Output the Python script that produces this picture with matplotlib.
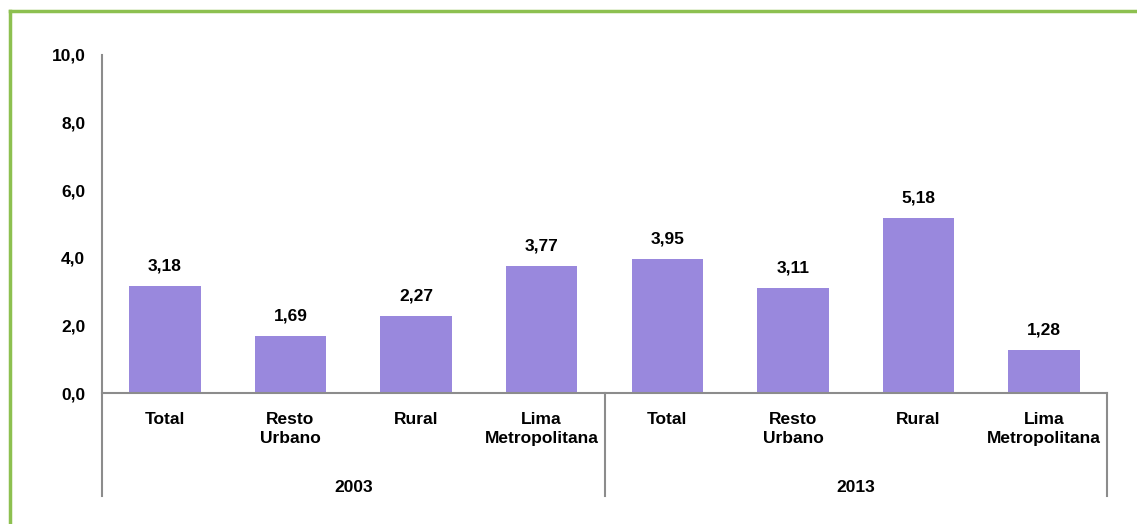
import matplotlib
matplotlib.use("Agg")
import matplotlib.pyplot as plt
from matplotlib import font_manager
from matplotlib.lines import Line2D

years = ["2003", "2013"]
areas = ["Total", "Resto\nUrbano", "Rural", "Lima\nMetropolitana"]
values_2003 = [3.18, 1.69, 2.27, 3.77]
values_2013 = [3.95, 3.11, 5.18, 1.28]
yticks = [0, 2, 4, 6, 8, 10]

names = {f.name for f in font_manager.fontManager.ttflist}
fam = "Liberation Sans Narrow" if "Liberation Sans Narrow" in names else "Liberation Sans"
fs = 14 if fam == "Liberation Sans Narrow" else 12.5
plt.rcParams["font.family"] = [fam, "DejaVu Sans"]
plt.rcParams["font.weight"] = "bold"

W, H = 1137, 524
fig = plt.figure(figsize=(W / 100, H / 100), dpi=100)
ax = fig.add_axes([102 / W, (H - 393) / H, (1107 - 102) / W, 338 / H])

values = values_2003 + values_2013
labels = areas + areas
xs = list(range(len(values)))
bar_color = "#9988DD"
ax.bar(xs, values, width=0.57, color=bar_color, zorder=2)

for x, v in zip(xs, values):
    ax.annotate(f"{v:.2f}".replace(".", ","), (x, v), xytext=(0, 9),
                textcoords="offset points", ha="center", va="bottom",
                fontsize=fs, fontweight="bold")

ax.set_xlim(-0.5, len(values) - 0.5)
ax.set_ylim(0, 10)
ax.set_yticks(yticks)
ax.set_yticklabels([f"{t:.1f}".replace(".", ",") for t in yticks], fontsize=fs, fontweight="bold")
ax.tick_params(axis="y", length=0, pad=12)
ax.set_xticks([])
for s in ["top", "right", "left"]:
    ax.spines[s].set_visible(False)
axis_color = "#8C8C8C"
ax.spines["bottom"].set_color(axis_color)
ax.spines["bottom"].set_linewidth(1.5)

tr = ax.get_xaxis_transform()
ybot = (393 - 496) / 338
# left axis line
ax.add_line(Line2D([-0.5, -0.5], [1, ybot], transform=tr, color=axis_color, lw=1.5, clip_on=False))
# group separators
for xsep in [3.5, 7.5]:
    ax.add_line(Line2D([xsep, xsep], [0, ybot], transform=tr, color=axis_color, lw=1.5, clip_on=False))

for x, lab in zip(xs, labels):
    ax.text(x, (393 - 412) / 338, lab, transform=tr, ha="center", va="top",
            fontsize=fs, fontweight="bold", linespacing=1.3)

for i, yr in enumerate(years):
    ax.text(1.5 + 4 * i, (393 - 487) / 338, yr, transform=tr, ha="center", va="center",
            fontsize=fs, fontweight="bold")

# green frame (top and left edges visible)
green = "#8DC050"
fig.add_artist(Line2D([9.5 / W, 1.0], [1 - 10.5 / H, 1 - 10.5 / H], transform=fig.transFigure,
                      color=green, lw=2.5))
fig.add_artist(Line2D([9.5 / W, 9.5 / W], [1 - 10.5 / H, 0], transform=fig.transFigure,
                      color=green, lw=2.5))

fig.savefig("out.png", dpi=100)
